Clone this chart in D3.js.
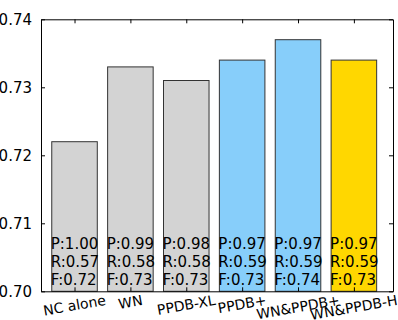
<!DOCTYPE html>
<html>
<head>
<meta charset="utf-8">
<script src="https://cdn.jsdelivr.net/npm/d3@7"></script>
<style>
body { margin: 0; background: #fff; }
svg { display: block; font-family: "DejaVu Sans", sans-serif; }
</style>
</head>
<body>
<div id="container"></div>
<script>
var categories = ['NC alone', 'WN', 'PPDB-XL', 'PPDB+', 'WN&PPDB+', 'WN&PPDB-H'];
var fScores = [0.722, 0.733, 0.731, 0.734, 0.737, 0.734];
var precision = ['1.00', '0.99', '0.98', '0.97', '0.97', '0.97'];
var recall = ['0.57', '0.58', '0.58', '0.59', '0.59', '0.59'];
var fLabels = ['0.72', '0.73', '0.73', '0.73', '0.74', '0.73'];
var colors = ['lightgray', 'lightgray', 'lightgray', 'lightskyblue', 'lightskyblue', 'gold'];
var yTicks = [0.70, 0.71, 0.72, 0.73, 0.74];

var width = 398,
    height = 320,
    margin = { left: 41, right: 5, top: 19.3, bottom: 28.7 };

var svg = d3.select('#container')
    .append('svg')
    .attr('width', width)
    .attr('height', height);

var x = d3.scaleLinear()
    .domain([-0.6, 5.7])
    .range([margin.left, width - margin.right]);
var y = d3.scaleLinear()
    .domain([0.70, 0.74])
    .range([height - margin.bottom, margin.top]);

var barW = x(0.815) - x(0);
var idx = d3.range(categories.length);
var noLabel = function() { return ''; };

// bars
svg.selectAll('rect.bar')
    .data(idx)
    .enter()
    .append('rect')
    .attr('class', 'bar')
    .attr('x', function(i) { return x(i) - barW / 2; })
    .attr('y', function(i) { return y(fScores[i]); })
    .attr('width', barW)
    .attr('height', function(i) { return y(0.70) - y(fScores[i]); })
    .style('fill', function(i) { return colors[i]; })
    .style('stroke', '#333')
    .style('stroke-width', 1);

// P/R/F text in bars
var lab = svg.selectAll('text.prf')
    .data(idx)
    .enter()
    .append('text')
    .attr('class', 'prf')
    .attr('font-size', 15)
    .attr('fill', '#000');
lab.append('tspan')
    .attr('x', function(i) { return x(i) - barW / 2 - 1; })
    .attr('y', y(0.70) - 42.5)
    .text(function(i) { return 'P:' + precision[i]; });
lab.append('tspan')
    .attr('x', function(i) { return x(i) - barW / 2 - 1; })
    .attr('y', y(0.70) - 24.5)
    .text(function(i) { return 'R:' + recall[i]; });
lab.append('tspan')
    .attr('x', function(i) { return x(i) - barW / 2 - 1; })
    .attr('y', y(0.70) - 6.5)
    .text(function(i) { return 'F:' + fLabels[i]; });

// frame with inward ticks
var axLeft = d3.axisLeft(y).tickValues(yTicks).tickFormat(d3.format('.2f')).tickSizeInner(-4).tickSizeOuter(0).tickPadding(9);
var axRight = d3.axisRight(y).tickValues(yTicks).tickFormat(noLabel).tickSizeInner(-4).tickSizeOuter(0);
var axBottom = d3.axisBottom(x).tickValues(idx).tickFormat(noLabel).tickSizeInner(-4).tickSizeOuter(0);
var axTop = d3.axisTop(x).tickValues(idx).tickFormat(noLabel).tickSizeInner(-4).tickSizeOuter(0);

svg.append('g').attr('transform', 'translate(' + margin.left + ',0)').call(axLeft);
svg.append('g').attr('transform', 'translate(' + (width - margin.right) + ',0)').call(axRight);
svg.append('g').attr('transform', 'translate(0,' + y(0.70) + ')').call(axBottom);
svg.append('g').attr('transform', 'translate(0,' + y(0.74) + ')').call(axTop);

svg.selectAll('.domain').style('stroke', '#000').style('stroke-width', 1);
svg.selectAll('.tick line').style('stroke', '#000');
svg.selectAll('.tick text')
    .attr('font-family', '"DejaVu Sans", sans-serif')
    .attr('font-size', 15)
    .attr('fill', '#000');

// rotated category labels
var ang = 10 * Math.PI / 180;
var labTop = y(0.70) + 0.5;
svg.selectAll('text.cat')
    .data(idx)
    .enter()
    .append('text')
    .attr('class', 'cat')
    .attr('font-size', 14)
    .attr('text-anchor', 'middle')
    .attr('y', '0.35em')
    .text(function(i) { return categories[i]; })
    .attr('transform', function(i) {
        var w = this.getComputedTextLength();
        var bh = w * Math.sin(ang) + 14 * 1.164 * Math.cos(ang);
        return 'translate(' + x(i) + ',' + (labTop + bh / 2) + ') rotate(-10)';
    });
</script>
</body>
</html>
